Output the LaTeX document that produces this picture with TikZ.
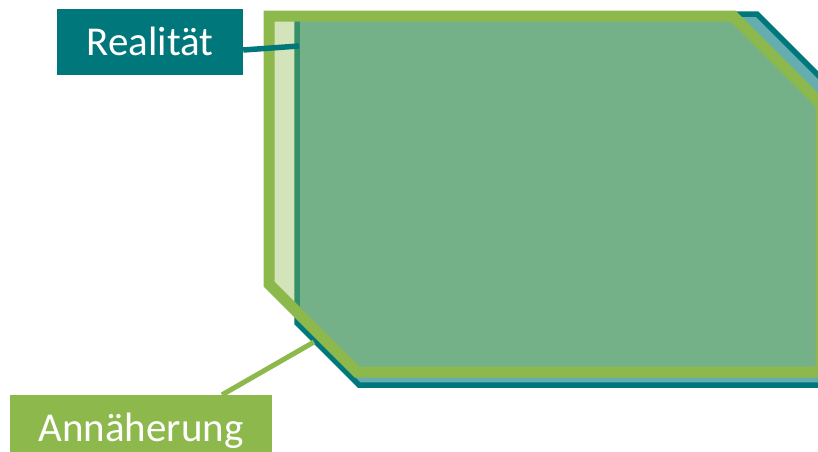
\documentclass[tikz,border=0pt]{standalone}
\usepackage{fontspec}
\setmainfont{Carlito}
\usepackage{tikz}
\usetikzlibrary{positioning}
\definecolor{real}{HTML}{00777A}
\definecolor{approx}{HTML}{8CB84C}

\begin{document}
\begin{tikzpicture}[
  x=1pt,y=-1pt,
  lbl/.style={fill=#1,text=white,inner sep=0pt,minimum height=66pt,font=\fontsize{41}{49}\selectfont,text height=27pt,text depth=0pt},
  area/.style={draw=#1,fill=#1,miter limit=20},
  link/.style={line width=#1},
]
  \useasboundingbox (0,0) rectangle (818,451);
  \clip (0,0) rectangle (818,451);

  % Realitaet und Annaeherung
  \draw[area=real,line width=5.5pt,fill opacity=0.6]
    (297,14) -- (757,14) -- (880,137) -- (880,385) -- (359,385) -- (297,323) -- cycle;
  \draw[area=approx,line width=11pt,fill opacity=0.38]
    (269,16) -- (733,16) -- (821,104) -- (821,372) -- (357,372) -- (269,284) -- cycle;

  \coordinate (realedge) at (299,46);
  \coordinate (approxedge) at (314,342);

  \node[lbl=real,minimum width=186pt] (realbox) at (150,42) {Realität};
  \node[lbl=approx,minimum width=262pt] (approxbox) at (141,428) {Annäherung};

  \draw[link=5.5pt,real] ([yshift=-8pt]realbox.east) -- (realedge);
  \draw[link=5pt,approx] ([xshift=81pt]approxbox.north) -- (approxedge);
\end{tikzpicture}
\end{document}
